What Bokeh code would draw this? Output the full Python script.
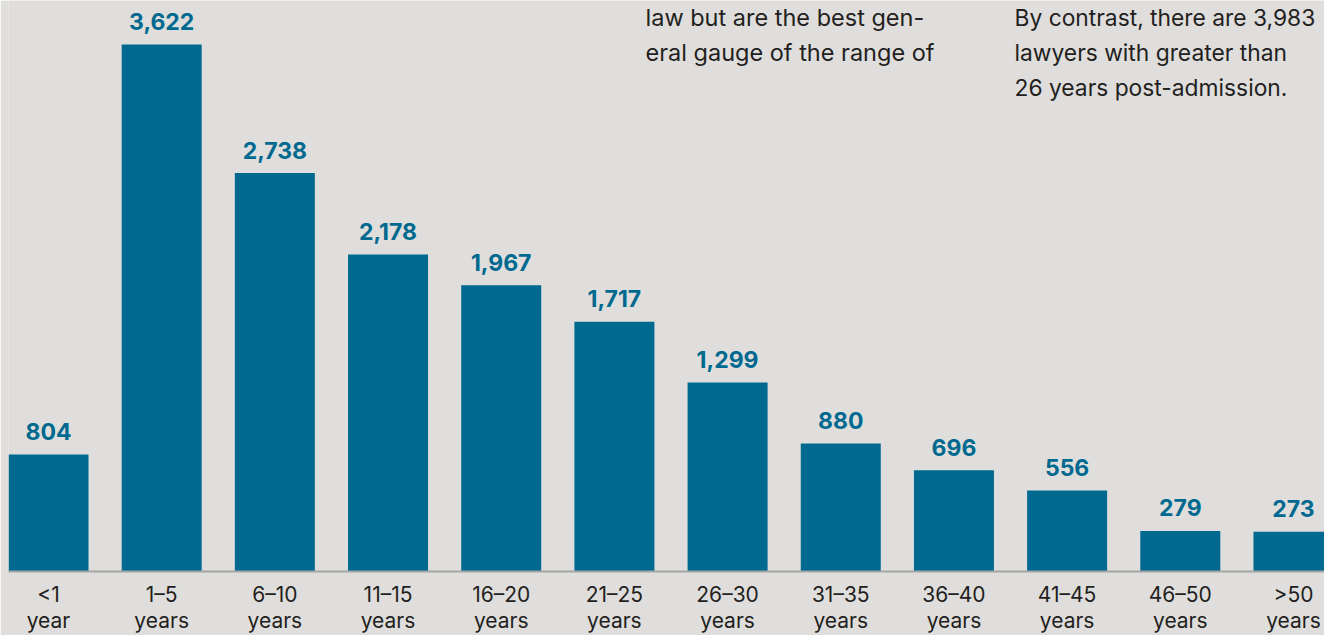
from bokeh.plotting import figure
from bokeh.models import FixedTicker, Label, ColumnDataSource, Range1d
from bokeh.embed import file_html
from bokeh.resources import INLINE
from bokeh.core.properties import value

# ---- data ----
categories = ["<1\nyear", "1–5\nyears", "6–10\nyears", "11–15\nyears", "16–20\nyears",
              "21–25\nyears", "26–30\nyears", "31–35\nyears", "36–40\nyears",
              "41–45\nyears", "46–50\nyears", ">50\nyears"]
counts = [804, 3622, 2738, 2178, 1967, 1717, 1299, 880, 696, 556, 279, 273]
note_left = ["law but are the best gen-", "eral gauge of the range of"]
note_right = ["By contrast, there are 3,983", "lawyers with greater than",
              "26 years post-admission."]

BG = "#dfdedc"
BAR = "#00698f"
TXT = "#231f20"
FONT = "Inter"

xs = list(range(len(categories)))
step = 113.18          # px per category
bw = 80 / step
FW, FH = 1316, 571     # frame size
x0 = -bw / 2
x1 = x0 + FW / step
ypx = 0.1455           # px per unit
y1 = FH / ypx

src = ColumnDataSource(dict(x=xs, top=counts, lab=[f"{c:,}" for c in counts]))

p = figure(frame_width=FW, frame_height=FH, output_backend="svg", toolbar_location=None,
           x_range=Range1d(x0, x1), y_range=Range1d(0, y1),
           min_border_left=8, min_border_right=0, min_border_top=0, min_border_bottom=0,
           background_fill_color=BG, border_fill_color=BG, outline_line_color=None)

p.vbar(x="x", top="top", width=bw, source=src, color=BAR, line_color=None)
p.text(x="x", y="top", text="lab", source=src, text_align="center", text_baseline="middle",
       y_offset=-23, text_font=value(FONT), text_font_style="bold",
       text_font_size="23px", text_color=BAR)

p.grid.visible = False
p.yaxis.visible = False
ax = p.xaxis[0]
ax.ticker = FixedTicker(ticks=xs)
ax.major_label_overrides = {i: c for i, c in zip(xs, categories)}
ax.major_tick_line_color = None
ax.minor_tick_line_color = None
ax.major_tick_out = 0
ax.major_tick_in = 0
ax.major_label_standoff = 10
ax.axis_line_color = "#a5a5a5"
ax.axis_line_width = 2
ax.major_label_text_font = FONT
ax.major_label_text_font_size = "21px"
ax.major_label_text_line_height = 1.05
ax.major_label_text_color = TXT


def px_x(px):
    return x0 + (px - 8) / step


def px_y(py):
    return (FH - py) / ypx


for i, t in enumerate(note_left):
    p.add_layout(Label(x=px_x(645), y=px_y(17 + 35 * i), text=t, text_font=FONT,
                       text_font_size="23.5px", text_color=TXT, text_baseline="alphabetic"))
for i, t in enumerate(note_right):
    p.add_layout(Label(x=px_x(1014), y=px_y(17 + 35 * i), text=t, text_font=FONT,
                       text_font_size="22.8px", text_color=TXT, text_baseline="alphabetic"))

open("out.html", "w").write(file_html(p, INLINE))
